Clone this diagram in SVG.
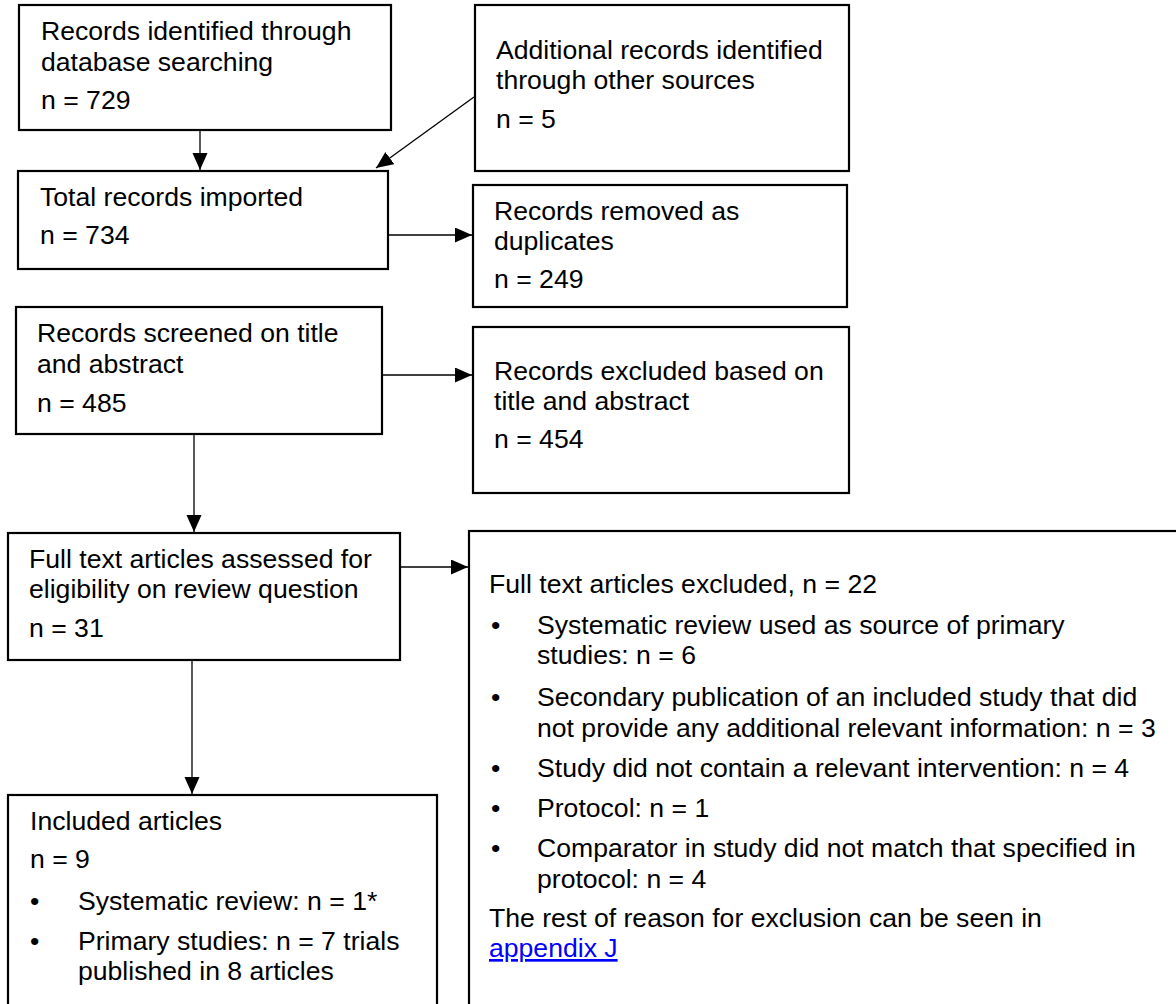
<svg xmlns="http://www.w3.org/2000/svg" width="1176" height="1004" viewBox="0 0 1176 1004">
<style>
.box{fill:#fff;stroke:#000;stroke-width:2.2}
text{font-family:"Liberation Sans",Arial,sans-serif;font-size:26.6px;fill:#000}
.link{fill:#0000ff;text-decoration:underline}
.conn line{stroke:#000;stroke-width:1.3;fill:none}
</style>
<defs>
<marker id="ah" markerUnits="userSpaceOnUse" markerWidth="18" markerHeight="16" refX="17" refY="7.5" orient="auto">
<path d="M0,0 L17,7.5 L0,15 z" fill="#000"/>
</marker>
</defs>
<rect width="1176" height="1004" fill="#fff"/>
<g id="n1">
<rect class="box" x="19" y="5" width="372" height="125"/>
<text x="41" y="40">Records identified through</text>
<text x="41" y="71">database searching</text>
<text x="41" y="109">n = 729</text>
</g>
<g id="n3">
<rect class="box" x="475" y="5" width="374" height="166"/>
<text x="496" y="59">Additional records identified</text>
<text x="496" y="89">through other sources</text>
<text x="496" y="128">n = 5</text>
</g>
<g id="n2">
<rect class="box" x="18" y="171" width="370" height="98"/>
<text x="40" y="206">Total records imported</text>
<text x="40" y="244">n = 734</text>
</g>
<g id="n4">
<rect class="box" x="473" y="185" width="374" height="122"/>
<text x="494" y="220">Records removed as</text>
<text x="494" y="250">duplicates</text>
<text x="494" y="288">n = 249</text>
</g>
<g id="n5">
<rect class="box" x="16" y="307" width="366" height="127"/>
<text x="37" y="342">Records screened on title</text>
<text x="37" y="373">and abstract</text>
<text x="37" y="412">n = 485</text>
</g>
<g id="n6">
<rect class="box" x="473" y="327" width="376" height="166"/>
<text x="494" y="380">Records excluded based on</text>
<text x="494" y="410">title and abstract</text>
<text x="494" y="448">n = 454</text>
</g>
<g id="n7">
<rect class="box" x="8" y="533" width="392" height="127"/>
<text x="29" y="568">Full text articles assessed for</text>
<text x="29" y="598">eligibility on review question</text>
<text x="29" y="637">n = 31</text>
</g>
<g id="n8">
<rect class="box" x="469" y="531" width="800" height="600"/>
<text x="489" y="593">Full text articles excluded, n = 22</text>
<text x="491" y="634">•</text>
<text x="537" y="634">Systematic review used as source of primary</text>
<text x="537" y="664">studies: n = 6</text>
<text x="491" y="706">•</text>
<text x="537" y="706">Secondary publication of an included study that did</text>
<text x="537" y="737">not provide any additional relevant information: n = 3</text>
<text x="491" y="777">•</text>
<text x="537" y="777">Study did not contain a relevant intervention: n = 4</text>
<text x="491" y="817">•</text>
<text x="537" y="817">Protocol: n = 1</text>
<text x="491" y="857">•</text>
<text x="537" y="857">Comparator in study did not match that specified in</text>
<text x="537" y="888">protocol: n = 4</text>
<text x="489" y="927">The rest of reason for exclusion can be seen in</text>
<text x="489" y="957" class="link">appendix J</text>
</g>
<g id="n9">
<rect class="box" x="8" y="795" width="429" height="300"/>
<text x="30" y="830">Included articles</text>
<text x="30" y="868">n = 9</text>
<text x="30" y="910">•</text>
<text x="78" y="910">Systematic review: n = 1*</text>
<text x="30" y="950">•</text>
<text x="78" y="950">Primary studies: n = 7 trials</text>
<text x="78" y="980">published in 8 articles</text>
</g>
<g id="connectors" class="conn">
<line x1="200" y1="131" x2="200" y2="170" marker-end="url(#ah)"/>
<line x1="474" y1="97" x2="376" y2="168" marker-end="url(#ah)"/>
<line x1="389" y1="235" x2="472" y2="235" marker-end="url(#ah)"/>
<line x1="383" y1="375" x2="472" y2="375" marker-end="url(#ah)"/>
<line x1="194" y1="435" x2="194" y2="532" marker-end="url(#ah)"/>
<line x1="401" y1="567" x2="468" y2="567" marker-end="url(#ah)"/>
<line x1="192" y1="661" x2="192" y2="794" marker-end="url(#ah)"/>
</g>
</svg>
